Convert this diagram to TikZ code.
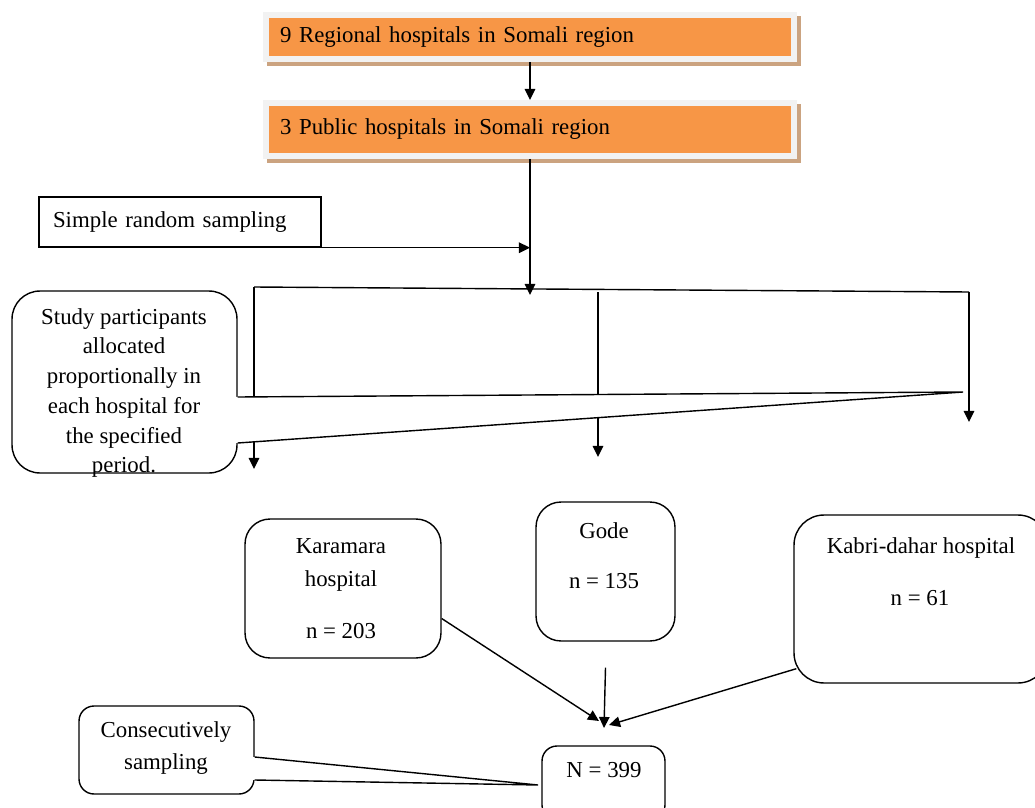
\documentclass[tikz,border=0pt]{standalone}
\usepackage{fontspec}
\setmainfont{Liberation Serif}
\usetikzlibrary{arrows.meta,shadows}
\definecolor{hosporange}{RGB}{247,150,70}
\definecolor{hospframe}{RGB}{242,242,242}
\definecolor{hospshadow}{RGB}{203,163,128}

\begin{document}
\begin{tikzpicture}[x=.02cm, y=-.02cm, line width=.8pt,
	font=\fontsize{13}{16.9}\selectfont,
	arr/.style={-{Triangle[length=6.3pt, width=6pt]}},
	tier/.style={fill=hosporange, draw=hospframe, line width=3.4pt,
		minimum width=10.56cm, minimum height=#1, text width=10cm,
		inner xsep=.28cm, align=left,
		general shadow={draw=hospshadow, fill=hospshadow, line width=3.4pt,
			shadow xshift=2.3pt, shadow yshift=-2.3pt}},
	site/.style={draw, fill=white, rounded corners=#1},
	txt/.style={inner sep=0pt, align=center, text height=9pt, text depth=3pt},
	txtblock/.style={inner sep=0pt, align=center}]
	\useasboundingbox (0,0) rectangle (1035,808);
	\clip (0,0) rectangle (1035,808);

	\node[tier=.88cm] (regional) at (530,37) {9 Regional hospitals in Somali region};
	\node[tier=1.06cm] (public) at (530,129.5) {3 Public hospitals in Somali region};
	\draw[arr] (regional) -- (public);

	\node[draw, minimum width=5.64cm, minimum height=1cm, text width=5.08cm, inner xsep=.28cm] (srs) at (180,222) {Simple random sampling};
	\coordinate (split) at (530,295);
	\draw[arr] (public) -- (split);
	\draw[arr] (srs.south east) -- (srs.south east -| split);

	\coordinate (branchL) at (254,287);
	\coordinate (branchM) at (598,292);
	\coordinate (branchR) at (969,292);
	\draw (branchL) -- (branchR);
	\foreach \n/\tip in {L/469, M/457, R/422}
		\draw[arr] (branch\n) -- (branch\n |- 0,\tip);

	\node[site=.56cm, minimum width=4.5cm, minimum height=3.64cm] (alloc) at (124.5,382) {};
	\coordinate (alloctip) at (963,392);
	\fill[white] ([shift={(-2,15)}]alloc.east) -- (alloctip) -- ([shift={(-2,61)}]alloc.east) -- cycle;
	\draw ([shift={(0,15)}]alloc.east) -- (alloctip) -- ([shift={(0,61)}]alloc.east);
	\node[txtblock] (alloctext) at (124,393) {Study participants\\allocated\\proportionally in\\each hospital for\\the specified\\period.};

	\node[site=.5cm, minimum width=3.92cm, minimum height=2.78cm] (karamara) at (343,588.5) {};
	\node[site=.5cm, minimum width=2.78cm, minimum height=2.78cm] (gode) at (605.5,571.5) {};
	\node[site=.6cm, minimum width=5.08cm, minimum height=3.36cm] (kabri) at (921,599) {};
	\node[site=.3cm, minimum width=2.46cm, minimum height=1.48cm] (total) at (603.5,783) {};
	\node[site=.3cm, minimum width=3.5cm, minimum height=1.76cm] (consec) at (166.5,750) {};

	\foreach \n/\x/\y/\label in {kar1/341/548/Karamara, kar2/341/581/hospital, kar3/341/633/n = 203,
		gode1/604/533/Gode, gode2/604/583/n = 135, kabri1/921/548/Kabri-dahar hospital,
		kabri2/920/600/n = 61, total1/604/772/N = 399}
		\node[txt] (\n) at (\x,\y) {\label};
	\node[txtblock] (consectext) at (166,748) {Consecutively\\[1.3pt]sampling};

	\coordinate (consectip) at (538,785);
	\fill[white] ([shift={(-2,7)}]consec.east) -- (consectip) -- ([shift={(-2,30)}]consec.east) -- cycle;
	\draw ([shift={(0,7)}]consec.east) -- (consectip) -- ([shift={(0,30)}]consec.east);

	\coordinate (meetL) at (599,721);
	\coordinate (meetM) at (604,728);
	\coordinate (meetR) at (609,725);
	\draw[arr] ([shift={(0,30)}]karamara.east) -- (meetL);
	\draw[arr] ([shift={(0,26)}]gode.south) -- (meetM);
	\draw[arr] ([shift={(3,-15)}]kabri.south west) -- (meetR);
\end{tikzpicture}
\end{document}
